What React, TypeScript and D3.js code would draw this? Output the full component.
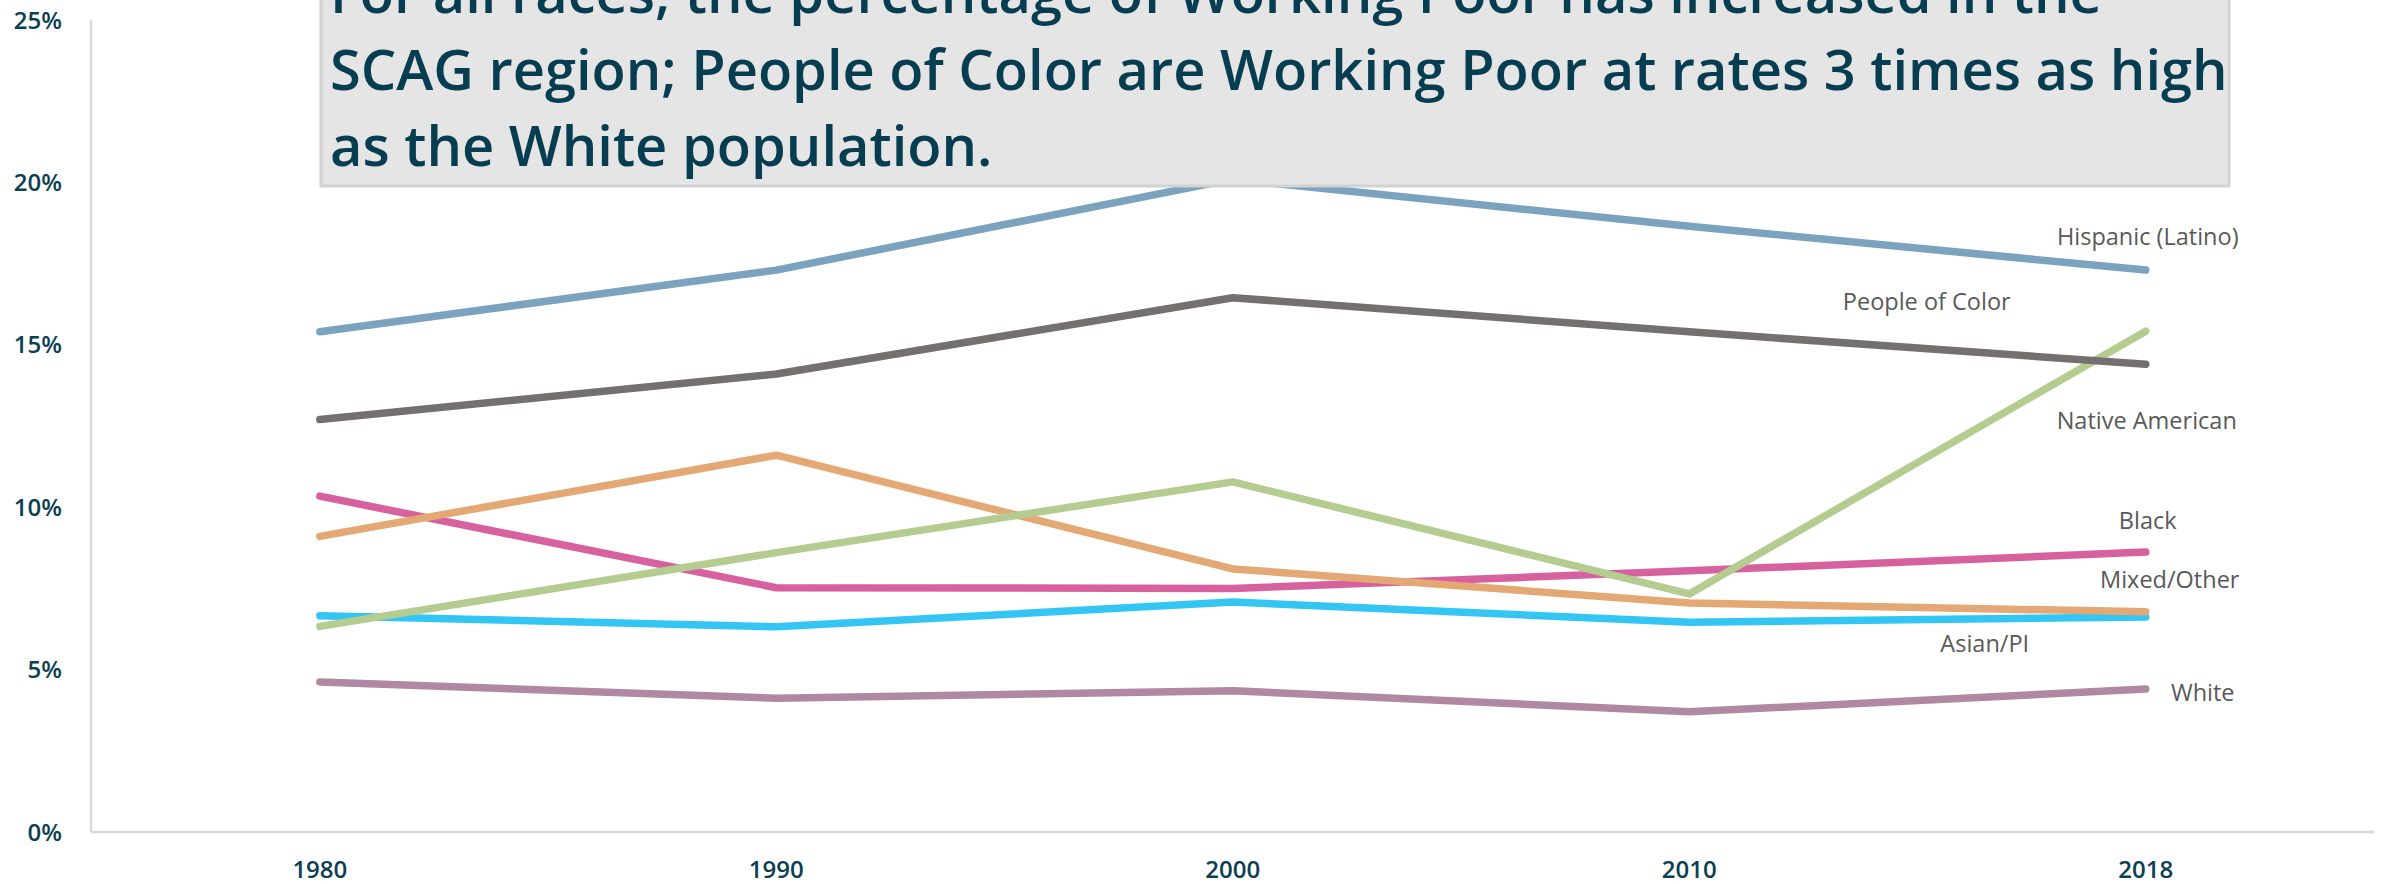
import React from "react";
import * as d3 from "d3";

const years = ["1980", "1990", "2000", "2010", "2018"];
const yTicks = [0, 5, 10, 15, 20, 25];

const hispanic = [15.4, 17.3, 20.1, 18.65, 17.3];
const peopleOfColor = [12.7, 14.1, 16.45, 15.4, 14.4];
const nativeAmerican = [6.33, 8.6, 10.78, 7.33, 15.42];
const mixedOther = [9.1, 11.6, 8.1, 7.05, 6.78];
const black = [10.34, 7.52, 7.5, 8.04, 8.62];
const asianPI = [6.66, 6.32, 7.08, 6.46, 6.62];
const white = [4.62, 4.12, 4.35, 3.7, 4.4];

const seriesNames = ["White", "Asian/PI", "Black", "Mixed/Other", "Native American", "People of Color", "Hispanic (Latino)"];
const seriesValues = [white, asianPI, black, mixedOther, nativeAmerican, peopleOfColor, hispanic];
const seriesColors = ["#b088a2", "#33c6f4", "#d6619e", "#e3a873", "#b5cc91", "#757070", "#7ba3c0"];
// label offsets relative to the 2018 point (dx, dy)
const labelOffsets: [number, number][] = [
  [57, 4],
  [-161, 27],
  [2, -31],
  [24, -32],
  [1, 90],
  [-219, -63],
  [2, -33],
];

const titleLines = [
  "For all races, the percentage of Working Poor has increased in the",
  "SCAG region; People of Color are Working Poor at rates 3 times as high",
  "as the White population.",
];

const W = 2394;
const H = 884;

export default function App() {
  React.useEffect(() => {
    document.body.style.margin = "0";
  }, []);

  const x = d3.scaleBand<string>().domain(years).range([91.6, 2374]);
  const y = d3.scaleLinear().domain([0, 25]).range([832, 20]);
  const cx = (yr: string) => (x(yr) as number) + x.bandwidth() / 2;
  const line = d3
    .line<number>()
    .x((_, i) => cx(years[i]))
    .y((d) => y(d));

  const font = "'Open Sans', 'Segoe UI', sans-serif";

  return (
    <svg width={W} height={H} style={{ display: "block", position: "absolute", left: 0, top: 0 }}>
      <rect width={W} height={H} fill="#ffffff" />
      {/* axes */}
      <line x1={91} x2={91} y1={y(25)} y2={y(0)} stroke="#d9d9d9" strokeWidth={2.5} />
      <line x1={91} x2={2374} y1={y(0)} y2={y(0)} stroke="#d9d9d9" strokeWidth={2.5} />
      {yTicks.map((t) => (
        <text
          key={t}
          x={62}
          y={y(t)}
          dy="0.36em"
          textAnchor="end"
          fontFamily={font}
          fontWeight={600}
          fontSize={24}
          fill="#0d3f52"
        >
          {t}%
        </text>
      ))}
      {years.map((yr) => (
        <text
          key={yr}
          x={cx(yr)}
          y={878}
          textAnchor="middle"
          fontFamily={font}
          fontWeight={600}
          fontSize={24}
          fill="#0d3f52"
        >
          {yr}
        </text>
      ))}
      {/* series */}
      {seriesValues.map((vals, i) => (
        <path
          key={seriesNames[i]}
          d={line(vals) || ""}
          fill="none"
          stroke={seriesColors[i]}
          strokeWidth={7.5}
          strokeLinecap="round"
          strokeLinejoin="round"
        />
      ))}
      {seriesValues.map((vals, i) => (
        <text
          key={"l" + seriesNames[i]}
          x={cx(years[4]) + labelOffsets[i][0]}
          y={y(vals[4]) + labelOffsets[i][1]}
          dy="0.35em"
          textAnchor="middle"
          fontFamily={font}
          fontSize={23.5}
          fill="#595959"
        >
          {seriesNames[i]}
        </text>
      ))}
      {/* title box */}
      <rect x={321} y={-20} width={1908} height={206} fill="#e5e5e5" stroke="#d2d2d2" strokeWidth={3} />
      {titleLines.map((t, i) => (
        <text
          key={i}
          x={330}
          y={13 + i * 76.5}
          fontFamily={font}
          fontWeight={600}
          fontSize={56}
          fill="#073d50"
        >
          {t}
        </text>
      ))}
    </svg>
  );
}
